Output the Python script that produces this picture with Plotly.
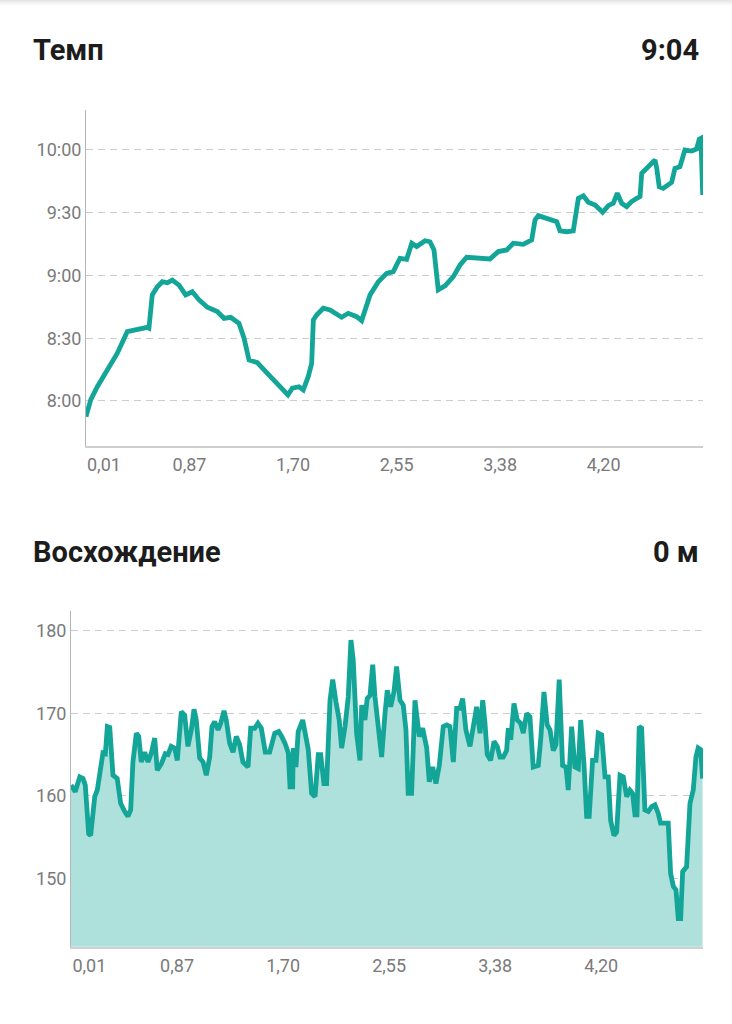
import plotly.graph_objects as go

# Pace chart ("Темп"): elapsed time (min) vs pace (seconds per km).
pace_time = [
    0.0, 0.34, 0.82, 1.43, 2.27, 2.99, 3.48, 4.44, 4.56, 4.80,
    5.17, 5.53, 5.89, 6.25, 6.74, 7.22, 7.70, 8.19, 8.79, 9.51,
    10.0, 10.48, 11.08, 11.45, 11.81, 12.41, 13.02, 13.62, 14.22, 14.63,
    14.95, 15.43, 15.74, 16.1, 16.35, 16.47, 16.71, 17.19, 17.68, 18.52,
    19.0, 19.61, 19.97, 20.58, 21.18, 21.78, 22.26, 22.75, 23.23, 23.6,
    23.96, 24.56, 24.92, 25.21, 25.52, 26.01, 26.61, 27.1, 27.58, 28.31,
    29.27, 29.87, 30.48, 30.96, 31.68, 32.29, 32.53, 32.77, 33.62, 34.1,
    34.34, 34.83, 35.3, 35.43, 35.67, 36.03, 36.39, 36.88, 37.43, 37.84,
    38.2, 38.49, 38.81, 39.17, 39.53, 39.9, 40.14, 40.26, 40.62, 40.98,
    41.22, 41.35, 41.53, 41.82, 42.19, 42.43, 42.67, 43.03, 43.39, 43.88,
    44.24, 44.43, 44.55, 44.68,
]
pace_sec = [
    472.5, 480.5, 486.8, 493.2, 502.8, 513.1, 513.9, 515.2, 514.8, 530.7,
    534.6, 537.0, 536.5, 537.8, 535.4, 530.7, 532.2, 528.3, 524.8, 522.7,
    519.5, 520.0, 517.1, 510.0, 499.6, 498.3, 494.0, 490.0, 485.3, 482.9,
    486.1, 486.8, 485.3, 491.6, 498.0, 518.7, 521.1, 524.3, 523.5, 520.0,
    521.9, 520.3, 518.4, 530.7, 537.0, 541.0, 541.8, 548.2, 547.7, 555.4,
    553.8, 556.6, 556.1, 552.2, 533.1, 535.0, 539.4, 545.0, 548.7, 548.2,
    547.9, 551.4, 552.2, 555.4, 554.9, 557.0, 566.5, 568.6, 567.0, 565.7,
    561.3, 560.9, 561.3, 568.1, 576.9, 578.1, 575.0, 573.7, 570.2, 573.4,
    574.5, 579.3, 574.5, 572.9, 575.3, 576.9, 577.7, 588.8, 591.2, 592.8,
    595.2, 591.2, 582.4, 581.7, 583.6, 584.5, 591.2, 592.0, 600.0, 599.5,
    600.5, 605.2, 605.6, 578.5,
]

# Elevation chart ("Восхождение"): elapsed time (min) vs altitude (m).
elev_time = [
    0.0, 0.30, 0.62, 0.85, 1.01, 1.25, 1.39, 1.68, 1.86, 2.03,
    2.26, 2.43, 2.57, 2.74, 2.97, 3.27, 3.51, 3.80, 4.03, 4.22,
    4.38, 4.62, 4.79, 4.97, 5.21, 5.45, 5.68, 5.92, 6.10, 6.39,
    6.67, 6.86, 7.09, 7.33, 7.52, 7.80, 8.04, 8.27, 8.51, 8.70,
    8.86, 9.10, 9.34, 9.57, 9.81, 9.97, 10.16, 10.40, 10.59, 10.82,
    10.98, 11.22, 11.46, 11.69, 11.93, 12.16, 12.52, 12.71, 12.99, 13.22,
    13.46, 13.74, 14.05, 14.41, 14.69, 14.90, 15.13, 15.37, 15.49, 15.68,
    15.72, 15.91, 16.07, 16.39, 16.62, 16.78, 17.02, 17.26, 17.49, 17.66,
    17.89, 18.08, 18.32, 18.51, 18.74, 18.97, 19.14, 19.38, 19.61, 19.80,
    19.96, 20.20, 20.44, 20.56, 20.79, 20.95, 21.15, 21.34, 21.50, 21.73,
    21.97, 22.21, 22.37, 22.61, 22.84, 23.03, 23.27, 23.50, 23.69, 23.85,
    24.09, 24.33, 24.63, 24.87, 25.16, 25.34, 25.58, 25.81, 26.05, 26.33,
    26.57, 26.80, 27.04, 27.28, 27.51, 27.70, 27.93, 28.22, 28.45, 28.69,
    28.93, 29.12, 29.28, 29.44, 29.68, 29.92, 30.15, 30.34, 30.57, 30.81,
    30.93, 31.10, 31.33, 31.56, 31.80, 31.99, 32.23, 32.46, 32.69, 33.05,
    33.22, 33.45, 33.68, 33.88, 34.11, 34.30, 34.53, 34.77, 35.01, 35.17,
    35.41, 35.64, 35.88, 36.05, 36.28, 36.47, 36.65, 36.89, 37.13, 37.29,
    37.53, 37.77, 38.00, 38.17, 38.40, 38.59, 38.83, 39.06, 39.30, 39.53,
    39.72, 39.89, 40.03, 40.19, 40.36, 40.59, 40.83, 41.07, 41.30, 41.53,
    41.70, 42.01, 42.24, 42.41, 42.60, 42.79, 42.95, 43.12, 43.26, 43.54,
    43.78, 44.01, 44.20, 44.36, 44.53, 44.67,
]
elev_m = [
    161.3, 160.5, 162.3, 162.1, 161.3, 155.4, 155.2, 159.9, 160.7, 163.1,
    165.2, 165.1, 168.4, 168.3, 162.5, 162.1, 159.1, 158.1, 157.5, 158.3,
    164.1, 167.6, 167.2, 164.1, 165.3, 164.1, 165.2, 167.0, 163.1, 163.9,
    165.1, 165.0, 166.0, 165.8, 164.3, 170.2, 169.8, 166.0, 168.0, 170.5,
    169.2, 164.6, 164.1, 162.5, 164.7, 168.4, 169.0, 168.0, 168.8, 170.3,
    169.2, 166.4, 165.3, 167.2, 166.2, 164.1, 163.5, 168.2, 168.2, 168.8,
    168.2, 165.3, 165.3, 167.6, 167.8, 167.2, 166.4, 165.2, 161.1, 161.1,
    165.8, 163.5, 167.8, 169.2, 166.8, 165.6, 160.3, 159.9, 165.0, 165.0,
    161.5, 161.5, 171.6, 174.1, 171.4, 169.2, 165.8, 168.4, 172.0, 178.9,
    176.5, 167.6, 164.3, 171.0, 169.2, 171.8, 172.2, 175.9, 172.0, 168.0,
    164.7, 170.0, 172.8, 170.8, 172.6, 175.7, 171.6, 171.0, 168.0, 160.3,
    160.3, 171.6, 167.2, 168.2, 165.8, 161.7, 163.5, 161.5, 163.7, 168.4,
    168.6, 168.4, 164.1, 170.6, 170.6, 171.8, 168.0, 166.0, 168.2, 170.8,
    167.6, 171.6, 168.8, 165.0, 164.3, 166.6, 166.0, 164.7, 164.7, 165.5,
    168.2, 166.8, 171.2, 169.2, 168.8, 167.6, 170.0, 169.6, 163.5, 163.7,
    166.8, 172.6, 168.6, 168.0, 165.5, 166.2, 174.1, 163.7, 163.5, 160.7,
    168.4, 163.5, 163.3, 169.2, 163.9, 157.5, 157.5, 164.3, 164.3, 167.6,
    167.4, 162.3, 162.3, 157.0, 155.2, 155.6, 162.5, 162.3, 159.9, 160.7,
    160.3, 157.7, 157.7, 168.4, 168.2, 158.3, 158.1, 158.7, 158.9, 157.9,
    156.7, 156.7, 156.7, 150.6, 149.0, 148.6, 145.1, 145.1, 150.8, 151.4,
    159.1, 160.7, 164.7, 165.8, 165.6, 162.1,
]

# Axis ticks: x labels are distance (km) read at time points.
x_tickvals = [1.3, 7.5, 15.0, 22.5, 30.0, 37.5]
x_ticktext = ['0,01', '0,87', '1,70', '2,55', '3,38', '4,20']
pace_tickvals = [480, 510, 540, 570, 600]
pace_ticktext = ['8:00', '8:30', '9:00', '9:30', '10:00']
elev_tickvals = [150, 160, 170, 180]

W, H = 732, 1024
TEAL = '#13a597'
FONT = 'Roboto'


def px_x(p):
    return p / W


def px_y(p):
    return 1 - p / H


fig = go.Figure()
fig.add_trace(go.Scatter(
    x=pace_time, y=pace_sec, mode='lines', xaxis='x', yaxis='y',
    line=dict(color=TEAL, width=4.8), hoverinfo='skip'))
fig.add_trace(go.Scatter(
    x=elev_time, y=elev_m, mode='lines', xaxis='x2', yaxis='y2',
    fill='tozeroy', fillcolor='#aee1dc',
    line=dict(color=TEAL, width=4.8), hoverinfo='skip'))

xaxis_common = dict(
    range=[0, 44.7], tickvals=x_tickvals, ticktext=x_ticktext,
    showgrid=False, zeroline=False, showline=True, linecolor='#cfcfcf',
    linewidth=1.5, ticks='', ticklabelstandoff=2,
    tickfont=dict(family=FONT, size=18, color='#7a7a7a'), fixedrange=True)
yaxis_common = dict(
    showgrid=True, gridcolor='#cccccc', gridwidth=1, griddash='7px,5px',
    zeroline=False, showline=True, linecolor='#b5b5b5', linewidth=1,
    ticks='', ticklabelstandoff=0,
    tickfont=dict(family=FONT, size=18, color='#7a7a7a'), fixedrange=True)

fig.update_layout(
    width=W, height=H,
    margin=dict(l=0, r=0, t=0, b=0),
    paper_bgcolor='white', plot_bgcolor='white',
    showlegend=False,
    xaxis=dict(domain=[px_x(86), px_x(703)], anchor='y', **xaxis_common),
    yaxis=dict(domain=[px_y(445.7), px_y(110)], anchor='x',
               range=[458.6, 619.1], tickvals=pace_tickvals,
               ticktext=pace_ticktext, **yaxis_common),
    xaxis2=dict(domain=[px_x(71), px_x(703)], anchor='y2', **xaxis_common),
    yaxis2=dict(domain=[px_y(946.7), px_y(610.7)], anchor='x2',
                range=[141.7, 182.46], tickvals=elev_tickvals,
                **yaxis_common),
)

# Section headers and summary values.
headers = [
    ('Темп', 31, 50, 'left'),
    ('9:04', 701, 50, 'right'),
    ('Восхождение', 31, 552, 'left'),
    ('0 м', 701, 552, 'right'),
]
for text, hx, hy, anchor in headers:
    fig.add_annotation(
        text=f'<b>{text}</b>', x=px_x(hx), y=px_y(hy),
        xref='paper', yref='paper', xanchor=anchor, yanchor='middle',
        showarrow=False, font=dict(family=FONT, size=29, color='#1c1c1c'))

# Faint toolbar shadow at the very top.
for y0, y1, alpha in [(0, 1.5, 0.10), (1.5, 3, 0.06), (3, 5, 0.03)]:
    fig.add_shape(type='rect', xref='paper', yref='paper',
                  x0=0, x1=1, y0=px_y(y1), y1=px_y(y0),
                  line=dict(width=0), fillcolor=f'rgba(0,0,0,{alpha})')

# Drop the default page margin so the figure fills the window.
fig.write_html('out.html', config={'displayModeBar': False},
               post_script="document.body.style.margin='0';")
